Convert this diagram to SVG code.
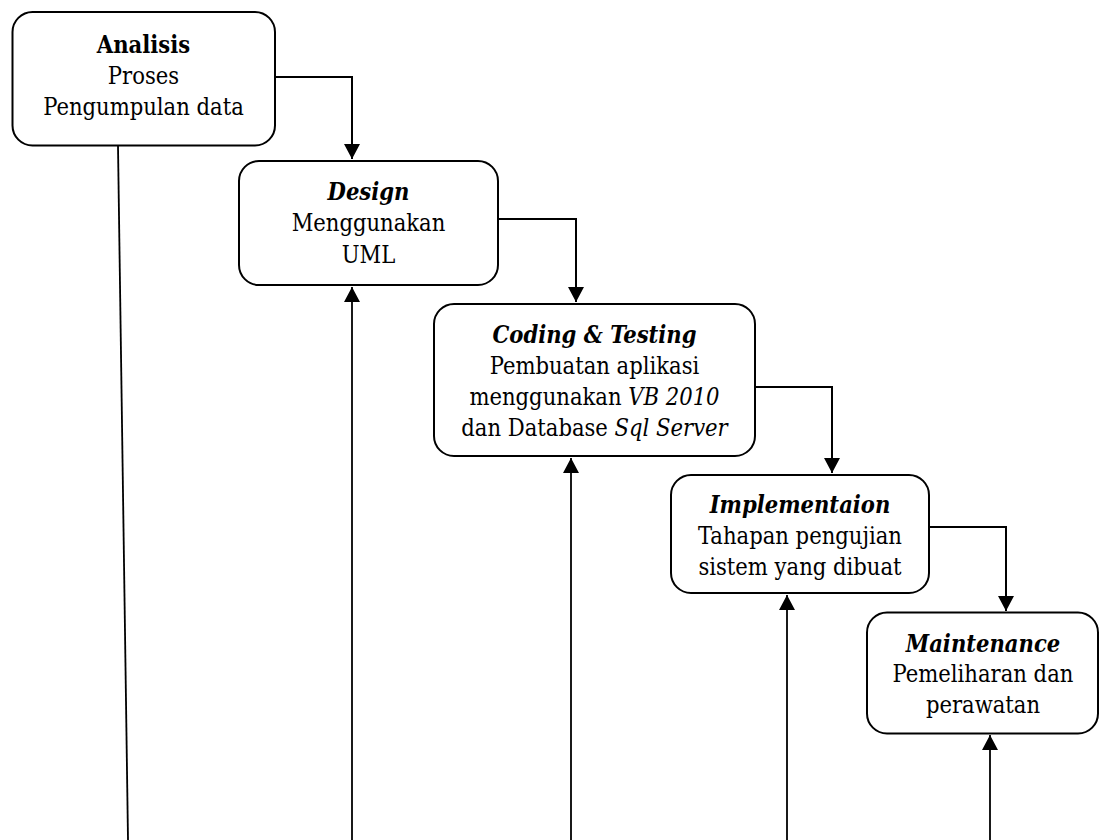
<svg xmlns="http://www.w3.org/2000/svg" width="1100" height="840" viewBox="0 0 1100 840">
<style>
.box{fill:#fff;stroke:#000;stroke-width:2}
text{font-family:'DejaVu Serif Condensed','DejaVu Serif',serif;font-stretch:condensed;font-size:23.5px;fill:#000;text-anchor:middle}
.h{font-weight:bold;font-style:italic}
.hb{font-weight:bold}
.i{font-style:italic}
.c{fill:none;stroke:#000;stroke-width:2}
.v{fill:none;stroke:#000;stroke-width:1.8}
</style>
<defs>
<marker id="ah" markerUnits="userSpaceOnUse" markerWidth="16" markerHeight="16" refX="15" refY="8" orient="auto">
<path d="M0,0 L15,8 L0,16 Z" fill="#000"/>
</marker>
</defs>
<rect width="1100" height="840" fill="#fff"/>
<g id="connectors">
<polyline class="c" points="275,77 352,77 352,159" marker-end="url(#ah)"/>
<polyline class="c" points="498,219 576,219 576,302" marker-end="url(#ah)"/>
<polyline class="c" points="755,387 832,387 832,473" marker-end="url(#ah)"/>
<polyline class="c" points="929,527 1006,527 1006,611" marker-end="url(#ah)"/>
<line class="v" x1="118" y1="146" x2="128" y2="840"/>
<line class="v" x1="352" y1="840" x2="352" y2="287" marker-end="url(#ah)"/>
<line class="v" x1="571" y1="840" x2="571" y2="458" marker-end="url(#ah)"/>
<line class="v" x1="787" y1="840" x2="787" y2="595" marker-end="url(#ah)"/>
<line class="v" x1="990" y1="840" x2="990" y2="735" marker-end="url(#ah)"/>
</g>
<g id="analisis">
<rect class="box" x="12.5" y="12" width="262.5" height="133.5" rx="20"/>
<text x="143.5" y="53"><tspan class="hb">Analisis</tspan></text>
<text x="143.5" y="84">Proses</text>
<text x="143.5" y="115">Pengumpulan data</text>
</g>
<g id="design">
<rect class="box" x="239" y="161" width="259" height="124" rx="20"/>
<text x="368.5" y="200"><tspan class="h">Design</tspan></text>
<text x="368.5" y="231">Menggunakan</text>
<text x="368.5" y="263">UML</text>
</g>
<g id="coding">
<rect class="box" x="434" y="304" width="321" height="152" rx="20"/>
<text x="594.5" y="343"><tspan class="h">Coding &amp; Testing</tspan></text>
<text x="594.5" y="374">Pembuatan aplikasi</text>
<text x="594.5" y="405">menggunakan <tspan class="i">VB 2010</tspan></text>
<text x="594.5" y="436">dan Database <tspan class="i">Sql Server</tspan></text>
</g>
<g id="implementation">
<rect class="box" x="671" y="475" width="258" height="118" rx="20"/>
<text x="800" y="513"><tspan class="h">Implementaion</tspan></text>
<text x="800" y="544">Tahapan pengujian</text>
<text x="800" y="575">sistem yang dibuat</text>
</g>
<g id="maintenance">
<rect class="box" x="867" y="612.5" width="231" height="121" rx="20"/>
<text x="983" y="652"><tspan class="h">Maintenance</tspan></text>
<text x="983" y="682">Pemeliharan dan</text>
<text x="983" y="713">perawatan</text>
</g>
</svg>
